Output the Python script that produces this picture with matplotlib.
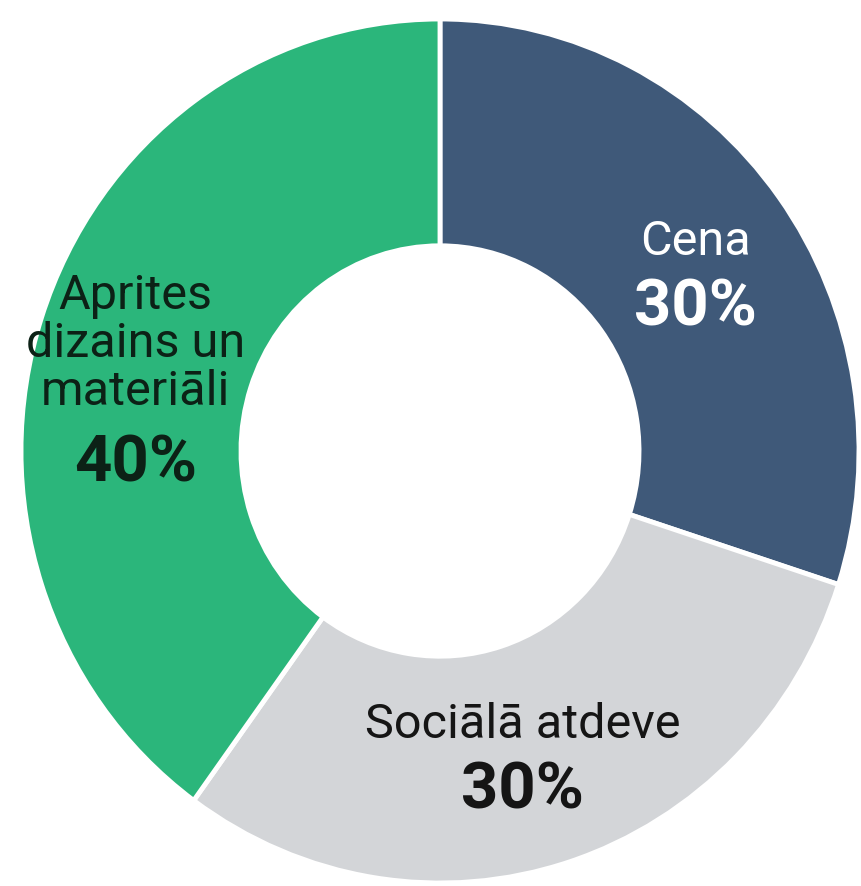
import numpy as np
import matplotlib
matplotlib.use("Agg")
import matplotlib.pyplot as plt

# ---- data ----
categories = ["Cena", "Sociālā atdeve", "Aprites\ndizains un\nmateriāli"]
values = [30, 30, 40]
pct_labels = ["30%", "30%", "40%"]

# ---- style ----
colors = ["#3f5979", "#d3d5d8", "#2bb67b"]
text_colors = ["#ffffff", "#151515", "#0c2116"]
label_angle_shift = [-2.2, -2.5, 9.3]    # degrees, fine tuning of label placement
label_gap_px = [33, 33, 60]              # half-distance between name and percentage
name_size = 35
pct_size = 47

W, H = 862, 887
fig = plt.figure(figsize=(W / 100, H / 100), dpi=100)
ax = fig.add_axes([0, 0, 1, 1])

Rx_px, Ry_px = 419, 432
cx_px, cy_px = 440, 452

wedges, _ = ax.pie(values, colors=colors, startangle=90, counterclock=False,
                   radius=1.0, center=(0, 0), frame=True,
                   wedgeprops=dict(width=0.525, edgecolor="white", linewidth=3.5))
ax.set_xlim(-cx_px / Rx_px, (W - cx_px) / Rx_px)
ax.set_ylim(-(H - cy_px) / Ry_px, cy_px / Ry_px)
ax.set_aspect("auto")
ax.axis("off")

r_lab = 0.735
for w, name, pct, tc, shift, gap in zip(wedges, categories, pct_labels,
                                         text_colors, label_angle_shift, label_gap_px):
    ang = np.deg2rad((w.theta1 + w.theta2) / 2 + shift)
    x, y = r_lab * np.cos(ang), r_lab * np.sin(ang)
    gap_pt = gap * 72 / 100
    ax.annotate(name, xy=(x, y), xytext=(0, gap_pt), textcoords="offset points",
                ha="center", va="center", fontsize=name_size, color=tc,
                linespacing=1.05, family=['Roboto', 'DejaVu Sans'])
    ax.annotate(pct, xy=(x, y), xytext=(0, -gap_pt), textcoords="offset points",
                ha="center", va="center", fontsize=pct_size, color=tc,
                fontweight="bold", family=['Roboto', 'DejaVu Sans'])

fig.savefig("out.png", dpi=100, facecolor="white")
